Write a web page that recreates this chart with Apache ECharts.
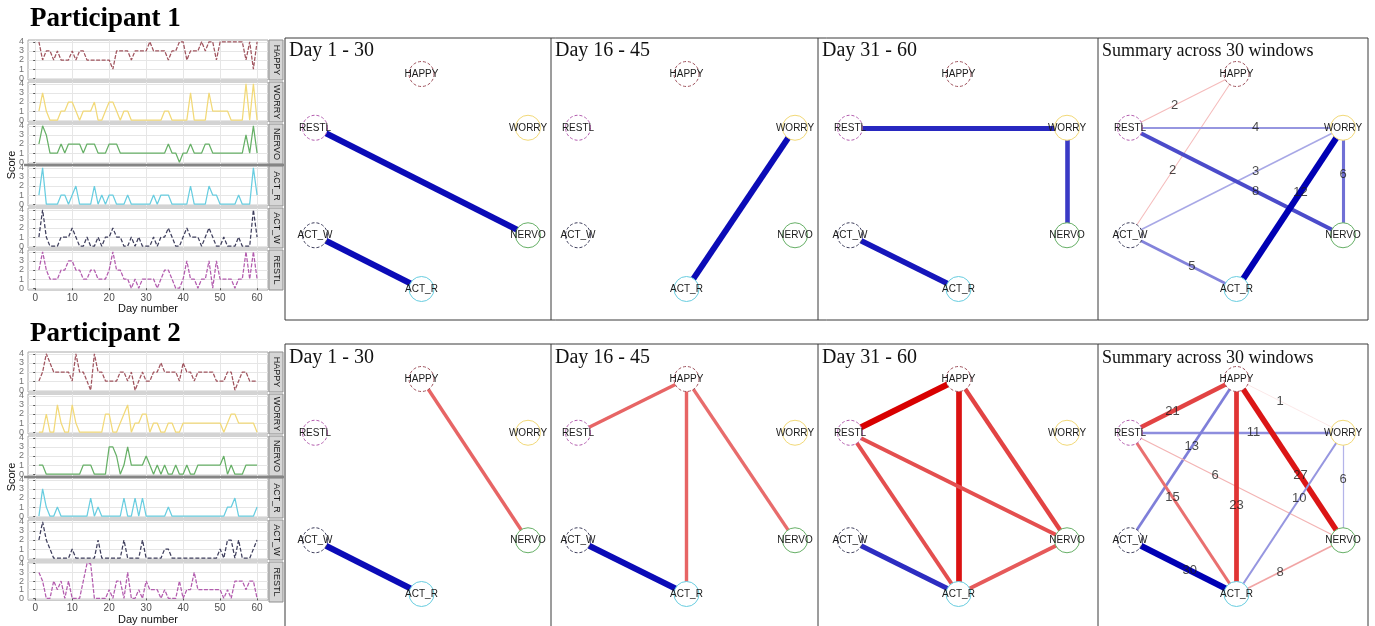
<!DOCTYPE html>
<html>
<head>
<meta charset="utf-8">
<script src="https://cdn.jsdelivr.net/npm/echarts@6/dist/echarts.min.js"></script>
<style>
  html, body { margin: 0; padding: 0; background: #ffffff; }
  #chart { width: 1375px; height: 626px; }
</style>
</head>
<body>
<div id="chart"></div>
<script>
// ---- data ---------------------------------------------------------------
const items = ['HAPPY', 'WORRY', 'NERVO', 'ACT_R', 'ACT_W', 'RESTL'];
const dayNumbers = [1,2,3,4,5,6,7,8,9,10,11,12,13,14,15,16,17,18,19,20,
  21,22,23,24,25,26,27,28,29,30,31,32,33,34,35,36,37,38,39,40,
  41,42,43,44,45,46,47,48,49,50,51,52,53,54,55,56,57,58,59,60];
const dayTicks = [0, 10, 20, 30, 40, 50, 60];
const scoreTicks = [0, 1, 2, 3, 4];

// Participant 1 daily scores
const p1Happy = [4,2,3,3,2,3,2,2,2,3, 2,3,3,2,2,2,2,2,2,2, 1,3,3,3,3,2,3,3,3,3, 4,3,3,3,3,2,3,3,4,4, 2,3,3,3,4,3,4,4,2,4, 4,4,4,4,4,4,2,4,1,4];
const p1Worry = [1,3,1,0,0,0,1,1,2,2, 1,0,1,1,1,2,0,0,1,2, 2,1,0,1,1,0,0,0,0,0, 0,0,0,0,1,1,0,0,0,0, 0,3,0,0,0,0,3,1,1,1, 1,1,0,0,0,0,4,0,4,0];
const p1Nervo = [2,4,3,1,1,1,2,1,2,2, 2,2,1,2,2,2,1,1,1,2, 2,2,1,1,1,1,1,1,1,1, 1,1,1,1,1,2,1,1,0,1, 1,2,1,1,1,2,2,1,1,1, 1,1,1,1,1,1,3,1,4,1];
const p1ActR  = [1,4,0,0,0,0,1,1,0,1, 2,0,0,0,0,2,0,1,0,1, 1,0,0,0,1,0,0,0,0,0, 0,1,0,1,1,1,0,0,0,0, 0,2,0,0,0,0,2,1,1,0, 0,0,0,0,1,0,0,0,4,1];
const p1ActW  = [1,4,1,0,0,0,1,1,1,2, 1,0,0,1,0,0,1,0,1,1, 2,1,1,0,0,1,0,1,0,0, 0,1,0,1,1,2,1,0,0,1, 2,1,1,1,0,1,2,1,0,0, 1,0,0,0,1,0,0,0,4,1];
const p1Restl = [2,4,2,1,1,1,2,2,3,3, 2,2,1,1,2,2,1,1,1,2, 4,2,2,1,1,0,1,0,1,1, 1,1,0,1,2,2,1,0,0,1, 3,1,1,0,1,1,3,0,3,1, 1,1,1,0,1,1,4,1,4,1];

// Participant 2 daily scores
const p2Happy = [1,2,4,3,2,2,2,2,2,1, 4,2,2,1,0,4,2,2,1,1, 1,1,2,2,1,2,0,1,2,1, 1,2,2,3,2,2,2,2,1,3, 2,2,1,2,2,2,2,2,1,1, 1,2,2,0,1,2,2,1,1,1];
const p2Worry = [0,0,2,0,0,3,1,0,0,3, 1,0,0,0,0,0,0,0,2,2, 0,0,1,2,3,0,1,1,2,2, 0,1,1,0,0,1,1,0,0,1, 1,1,1,1,1,1,1,1,1,1, 0,1,2,2,1,1,1,1,1,0];
const p2Nervo = [1,1,0,0,0,0,0,0,0,0, 0,0,1,1,1,0,0,0,0,3, 3,2,0,1,3,1,1,1,1,2, 1,0,1,0,1,0,0,1,0,0, 1,0,0,1,1,1,1,1,1,1, 2,0,1,0,0,0,1,1,1,1];
const p2ActR  = [0,3,1,0,0,1,0,0,0,0, 0,0,0,0,2,0,1,0,0,0, 0,0,0,2,0,0,2,0,2,0, 0,0,0,0,0,1,0,0,0,0, 0,0,0,0,0,0,0,0,0,0, 0,1,1,2,0,0,0,0,0,1];
const p2ActW  = [2,4,2,1,0,0,0,0,0,1, 0,0,0,0,0,0,2,0,0,0, 0,0,0,2,0,0,0,0,2,0, 0,0,0,0,1,1,0,0,0,0, 0,0,0,0,0,0,0,0,0,1, 0,2,2,0,2,0,0,0,1,2];
const p2Restl = [3,2,0,0,2,1,2,0,2,0, 0,0,2,4,4,0,0,0,0,1, 0,2,2,0,3,0,0,1,0,2, 1,1,1,0,1,0,0,0,2,0, 1,1,3,1,1,1,1,1,1,1, 0,1,0,2,2,2,1,2,2,0];

// circle layout of the six nodes (same order as items)
const layoutX = [0, 1, 1, 0, -1, -1];
const layoutY = [1, 0.5, -0.5, -1, -0.5, 0.5];

const windowTitles = ['Day 1 - 30', 'Day 16 - 45', 'Day 31 - 60', 'Summary across 30 windows'];

// edges per window: [from, to, signed strength]; summary: signed window counts
const p1Day1to30  = [['RESTL','NERVO',0.95], ['ACT_W','ACT_R',0.95]];
const p1Day16to45 = [['WORRY','ACT_R',0.95]];
const p1Day31to60 = [['RESTL','WORRY',0.82], ['WORRY','NERVO',0.74], ['ACT_W','ACT_R',0.9]];
const p1Summary   = [['HAPPY','RESTL',-2], ['HAPPY','ACT_W',-2], ['RESTL','WORRY',4], ['WORRY','ACT_W',3],
                     ['RESTL','NERVO',8], ['WORRY','ACT_R',12], ['WORRY','NERVO',6], ['ACT_W','ACT_R',5]];

const p2Day1to30  = [['HAPPY','NERVO',-0.55], ['ACT_W','ACT_R',0.95]];
const p2Day16to45 = [['HAPPY','RESTL',-0.55], ['HAPPY','ACT_R',-0.55], ['HAPPY','NERVO',-0.52], ['ACT_W','ACT_R',0.95]];
const p2Day31to60 = [['HAPPY','RESTL',-1.0], ['HAPPY','ACT_R',-0.92], ['HAPPY','NERVO',-0.7], ['RESTL','ACT_R',-0.65],
                     ['RESTL','NERVO',-0.65], ['NERVO','ACT_R',-0.6], ['ACT_W','ACT_R',0.8]];
const p2Summary   = [['HAPPY','RESTL',-21], ['HAPPY','WORRY',-1], ['RESTL','WORRY',11], ['HAPPY','ACT_W',13],
                     ['RESTL','NERVO',-6], ['RESTL','ACT_R',-15], ['HAPPY','ACT_R',-23], ['HAPPY','NERVO',-27],
                     ['WORRY','ACT_R',10], ['WORRY','NERVO',6], ['ACT_W','ACT_R',30], ['NERVO','ACT_R',-8]];

// ---- styling --------------------------------------------------------------
const itemColors = { HAPPY: '#a0545e', WORRY: '#f2d978', NERVO: '#67b067', ACT_R: '#68cde0', ACT_W: '#3e3e5c', RESTL: '#b35cae' };
const itemDash = { HAPPY: [4, 1.5], WORRY: 'solid', NERVO: 'solid', ACT_R: 'solid', ACT_W: [4, 2], RESTL: [4, 1.5] };
const POS = '#0000b4', NEG = '#d80000';
const SANS = 'Liberation Sans, Arial, sans-serif';
const SERIF = 'Liberation Serif, Times New Roman, serif';

// where along each summary edge (fraction from its first node) the count label sits
const p1LabelAt = { 'HAPPY-RESTL': 0.58, 'HAPPY-ACT_W': 0.6, 'RESTL-WORRY': 0.59, 'WORRY-ACT_W': 0.41,
  'RESTL-NERVO': 0.59, 'WORRY-ACT_R': 0.4, 'WORRY-NERVO': 0.43, 'ACT_W-ACT_R': 0.58 };
const p2LabelAt = { 'HAPPY-RESTL': 0.6, 'HAPPY-WORRY': 0.41, 'RESTL-WORRY': 0.58, 'HAPPY-ACT_W': 0.42,
  'RESTL-NERVO': 0.4, 'RESTL-ACT_R': 0.4, 'HAPPY-ACT_R': 0.59, 'HAPPY-NERVO': 0.6,
  'WORRY-ACT_R': 0.41, 'WORRY-NERVO': 0.43, 'ACT_W-ACT_R': 0.56, 'NERVO-ACT_R': 0.59 };

function mixWhite(hex, f) {
  const c = [1, 3, 5].map(i => parseInt(hex.slice(i, i + 2), 16));
  const m = v => Math.round(255 + (v - 255) * f);
  return 'rgb(' + m(c[0]) + ',' + m(c[1]) + ',' + m(c[2]) + ')';
}

const grids = [], xAxes = [], yAxes = [], series = [], graphics = [];

// ---- time-series small multiples -------------------------------------
const TS_LEFT = 28, TS_WIDTH = 240, TS_H = 40, TS_PITCH = 42;
const X_MIN = -1.95, X_MAX = 62.95;

function addTimeSeries(values, top0, nameGap, title, titleY) {
  graphics.push({ type: 'text', x: 30, y: titleY,
    style: { text: title, font: 'bold 27px ' + SERIF, fill: '#000', align: 'left', verticalAlign: 'middle', textAlign: 'left', textVerticalAlign: 'middle' } });
  items.forEach((name, k) => {
    const top = top0 + k * TS_PITCH;
    const gi = grids.length;
    const last = k === items.length - 1;
    grids.push({ left: TS_LEFT, top: top, width: TS_WIDTH, height: TS_H, show: true,
      borderColor: '#a8a8a8', borderWidth: 1, backgroundColor: '#ffffff' });
    xAxes.push({ gridIndex: gi, type: 'value', min: X_MIN, max: X_MAX,
      axisLine: { show: false },
      axisTick: { show: last, customValues: dayTicks, length: 2, lineStyle: { color: '#555' } },
      axisLabel: { show: last, customValues: dayTicks, fontSize: 10, color: '#4d4d4d', margin: 3, fontFamily: SANS,
        showMinLabel: true, showMaxLabel: true },
      splitLine: { show: true, lineStyle: { color: '#e6e6e6', width: 1 } },
      name: last ? 'Day number' : '', nameLocation: 'middle', nameGap: nameGap,
      nameTextStyle: { fontSize: 11, color: '#111', fontFamily: SANS } });
    yAxes.push({ gridIndex: gi, type: 'value', min: -0.2, max: 4.2,
      axisLine: { show: false },
      axisTick: { show: true, customValues: scoreTicks, length: 2, lineStyle: { color: '#555' } },
      axisLabel: { show: false },
      splitLine: { show: true, lineStyle: { color: '#e6e6e6', width: 1 } } });
    series.push({ type: 'line', xAxisIndex: gi, yAxisIndex: gi, silent: true,
      symbol: 'none', showSymbol: false,
      data: dayNumbers.map((d, i) => [d, values[k][i]]),
      lineStyle: { color: itemColors[name], width: 1.25, type: itemDash[name] } });
    // score tick labels along the left edge of every facet
    series.push({ type: 'scatter', xAxisIndex: gi, yAxisIndex: gi, silent: true, symbolSize: 0, clip: false,
      data: scoreTicks.map(v => [X_MIN, v]),
      label: { show: true, position: 'left', distance: 4, fontSize: 9, color: '#4d4d4d', fontFamily: SANS,
        formatter: p => String(p.value[1]) },
      labelLayout: { hideOverlap: false } });
    // facet strip on the right
    graphics.push({ type: 'rect', shape: { x: 269, y: top, width: 14, height: TS_H },
      style: { fill: '#d6d6d6', stroke: '#8f8f8f', lineWidth: 1 } });
    graphics.push({ type: 'text', x: 276, y: top + TS_H / 2, rotation: -Math.PI / 2,
      style: { text: name, font: '9px ' + SANS, fill: '#1a1a1a', align: 'center', verticalAlign: 'middle', textAlign: 'center', textVerticalAlign: 'middle' } });
  });
  // divider between the mood and activity blocks
  const sepY = top0 + 3 * TS_PITCH - 1;
  graphics.push({ type: 'line', shape: { x1: 24, y1: sepY, x2: 284, y2: sepY },
    style: { stroke: '#858585', lineWidth: 2.5 } });
  graphics.push({ type: 'text', x: 12, y: top0 + (5 * TS_PITCH + TS_H) / 2, rotation: Math.PI / 2,
    style: { text: 'Score', font: '11px ' + SANS, fill: '#111', align: 'center', verticalAlign: 'middle', textAlign: 'center', textVerticalAlign: 'middle' } });
}

addTimeSeries([p1Happy, p1Worry, p1Nervo, p1ActR, p1ActW, p1Restl], 40, 12, 'Participant 1', 19);
addTimeSeries([p2Happy, p2Worry, p2Nervo, p2ActR, p2ActW, p2Restl], 352, 13, 'Participant 2', 334);

// ---- network panels ----------------------------------------------------
const panelEdges = [285, 551, 818, 1098];
const nodeBox = [{ left: 315, width: 213 }, { left: 578, width: 217 }, { left: 850, width: 217 }, { left: 1130, width: 213 }];
const rows = [
  { boxTop: 38, boxBottom: 320, nodeTop: 74, titleY: 51, labelAt: p1LabelAt,
    edges: [p1Day1to30, p1Day16to45, p1Day31to60, p1Summary] },
  { boxTop: 344, boxBottom: 640, nodeTop: 379, titleY: 358, labelAt: p2LabelAt,
    edges: [p2Day1to30, p2Day16to45, p2Day31to60, p2Summary] }
];

rows.forEach(row => {
  graphics.push({ type: 'rect', shape: { x: 285, y: row.boxTop, width: 1083, height: row.boxBottom - row.boxTop },
    style: { fill: null, stroke: '#3a3a3a', lineWidth: 1 } });
  [551, 818, 1098].forEach(x => graphics.push({ type: 'line',
    shape: { x1: x, y1: row.boxTop, x2: x, y2: row.boxBottom }, style: { stroke: '#3a3a3a', lineWidth: 1 } }));

  row.edges.forEach((edges, c) => {
    const isSummary = c === 3;
    graphics.push({ type: 'text', x: panelEdges[c] + 4, y: row.titleY,
      style: { text: windowTitles[c], font: (isSummary ? '18px ' : '20px ') + SERIF, fill: '#111',
        align: 'left', verticalAlign: 'middle', textAlign: 'left', textVerticalAlign: 'middle' } });

    const gi = grids.length;
    grids.push({ left: nodeBox[c].left, width: nodeBox[c].width, top: row.nodeTop, height: 215, show: false });
    xAxes.push({ gridIndex: gi, type: 'value', min: -1, max: 1, show: false });
    yAxes.push({ gridIndex: gi, type: 'value', min: -1, max: 1, show: false });

    const maxW = isSummary ? Math.max(...edges.map(e => Math.abs(e[2]))) : 1;
    const links = edges.map(e => {
      const s = Math.abs(e[2]) / maxW;
      return { source: e[0], target: e[1],
        lineStyle: { color: mixWhite(e[2] > 0 ? POS : NEG, 0.12 + 0.88 * s), width: Math.max(0.6, 6.2 * s), opacity: 1, curveness: 0 } };
    });
    series.push({ type: 'graph', coordinateSystem: 'cartesian2d', xAxisIndex: gi, yAxisIndex: gi,
      layout: 'none', silent: true, z: 2,
      symbol: 'circle', symbolSize: 25,
      data: items.map((name, i) => ({ name: name, value: [layoutX[i], layoutY[i]],
        itemStyle: { color: '#ffffff', borderColor: itemColors[name], borderWidth: 1,
          borderType: itemDash[name] === 'solid' ? 'solid' : [3, 2] } })),
      links: links,
      label: { show: true, position: 'inside', fontSize: 10, color: '#1a1a1a', fontFamily: SANS },
      lineStyle: { opacity: 1 },
      emphasis: { disabled: true } });

    if (isSummary) {
      const idx = n => items.indexOf(n);
      series.push({ type: 'scatter', xAxisIndex: gi, yAxisIndex: gi, silent: true, z: 4,
        symbolSize: 0,
        data: edges.map(e => {
          const a = idx(e[0]), b = idx(e[1]);
          const t = row.labelAt[e[0] + '-' + e[1]];
          return [layoutX[a] + t * (layoutX[b] - layoutX[a]),
                  layoutY[a] + t * (layoutY[b] - layoutY[a]), Math.abs(e[2])];
        }),
        label: { show: true, position: 'inside', fontSize: 13, color: '#1a1a1a', fontFamily: SANS,
          formatter: p => String(p.value[2]) } });
    }
  });
});

const chart = echarts.init(document.getElementById('chart'), null, { renderer: 'canvas' });
chart.setOption({
  animation: false,
  backgroundColor: '#ffffff',
  grid: grids,
  xAxis: xAxes,
  yAxis: yAxes,
  series: series,
  graphic: { elements: graphics }
});
</script>
</body>
</html>
